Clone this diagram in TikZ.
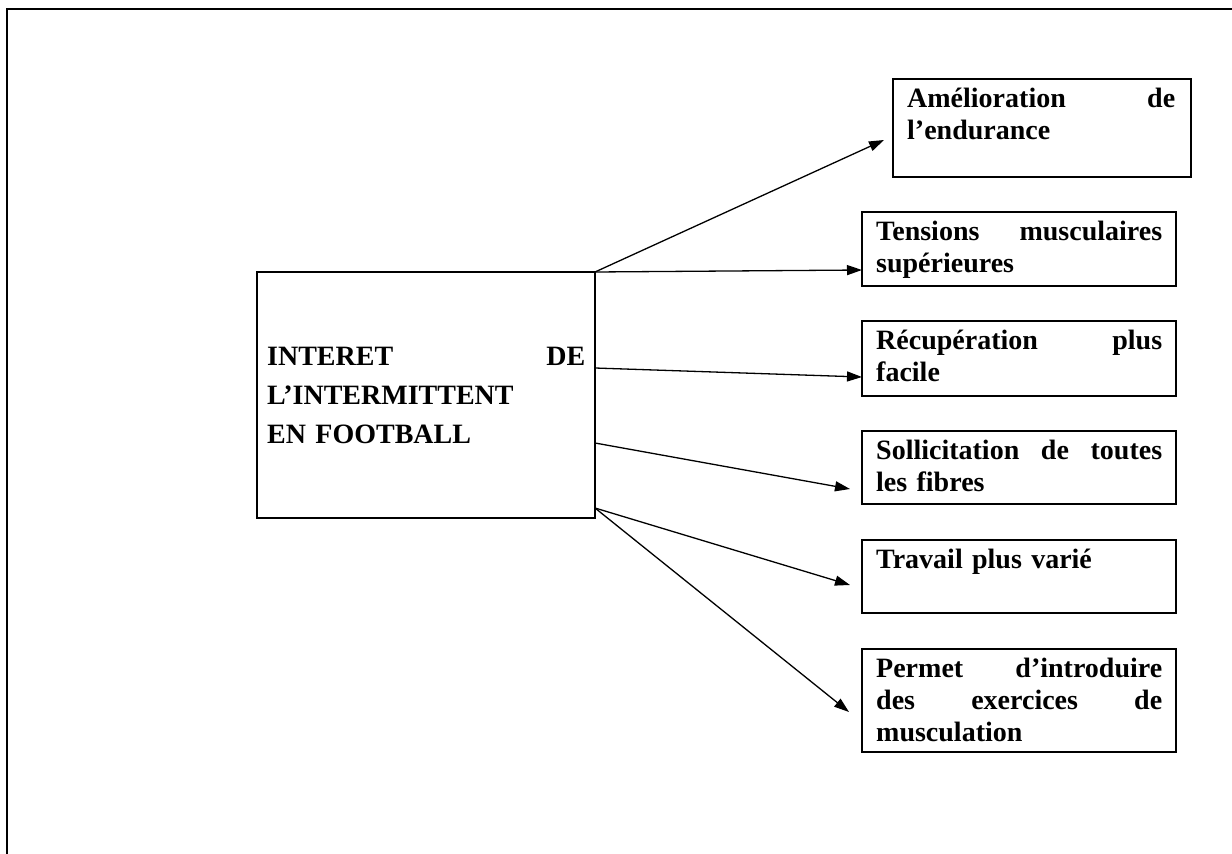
\documentclass[tikz,border=0pt]{standalone}
\usepackage{fontspec}
\setmainfont{Liberation Serif}
\usetikzlibrary{arrows.meta}
\setlength{\parindent}{0pt}
\newcommand\jline[2]{{\spaceskip=0.25em plus 1fil\relax\xspaceskip=0.25em plus 1fil\relax\makebox[#1][s]{#2}}}
\newcommand\fl{\rule{0pt}{21pt}}
\begin{document}
\begin{tikzpicture}[x=1pt,y=-1pt,
  frame/.style={line width=2pt},
  box/.style={draw, line width=2pt, inner sep=0pt, outer sep=0pt, anchor=north west},
  txt/.style={anchor=north west, inner sep=0pt, align=left, font=\fontsize{28}{32}\selectfont\bfseries},
  arr/.style={line width=1.3pt, -{Triangle[length=15pt,width=10pt]}}]
\useasboundingbox (0,0) rectangle (1232,854);
\draw[frame] (7,854) -- (7,9) -- (1232,9);

% central box
\node[box, minimum width=338pt, minimum height=246pt] (main) at (257,272) {};
\node[txt, text width=318pt, font=\fontsize{28}{39}\selectfont\bfseries] (tmain) at (267,344)
  {\jline{318pt}{\fl INTERET DE}\\L’INTERMITTENT\\EN FOOTBALL};

% right boxes
\node[box, minimum width=298pt, minimum height=98pt] (b1) at (893,79) {};
\node[txt, text width=268pt] (t1) at (907,86) {\jline{268pt}{\fl Amélioration de}\\l’endurance};

\node[box, minimum width=314pt, minimum height=74pt] (b2) at (862,212) {};
\node[txt, text width=286pt] (t2) at (876,219) {\jline{286pt}{\fl Tensions musculaires}\\supérieures};

\node[box, minimum width=314pt, minimum height=75pt] (b3) at (862,321) {};
\node[txt, text width=286pt] (t3) at (876,328) {\jline{286pt}{\fl Récupération plus}\\facile};

\node[box, minimum width=314pt, minimum height=73pt] (b4) at (862,431) {};
\node[txt, text width=286pt] (t4) at (876,438) {\jline{286pt}{\fl Sollicitation de toutes}\\les fibres};

\node[box, minimum width=314pt, minimum height=73pt] (b5) at (862,540) {};
\node[txt, text width=286pt] (t5) at (876,547) {\fl Travail plus varié};

\node[box, minimum width=314pt, minimum height=103pt] (b6) at (862,649) {};
\node[txt, text width=286pt] (t6) at (876,656) {\jline{286pt}{\fl Permet d’introduire}\\\jline{286pt}{des exercices de}\\musculation};

% arrows
\coordinate (e1) at (884,140);
\coordinate (e4) at (850,489);
\coordinate (e5) at (850,585);
\coordinate (e6) at (849,712);
\draw[arr] (main.north east) -- (e1);
\draw[arr] (main.north east) -- (b2.west |- 0,270);
\draw[arr] (main.east |- 0,368) -- (b3.west |- 0,377);
\draw[arr] (main.east |- 0,443) -- (e4);
\draw[arr] (main.east |- 0,508) -- (e5);
\draw[arr] (main.east |- 0,508) -- (e6);
\end{tikzpicture}
\end{document}
